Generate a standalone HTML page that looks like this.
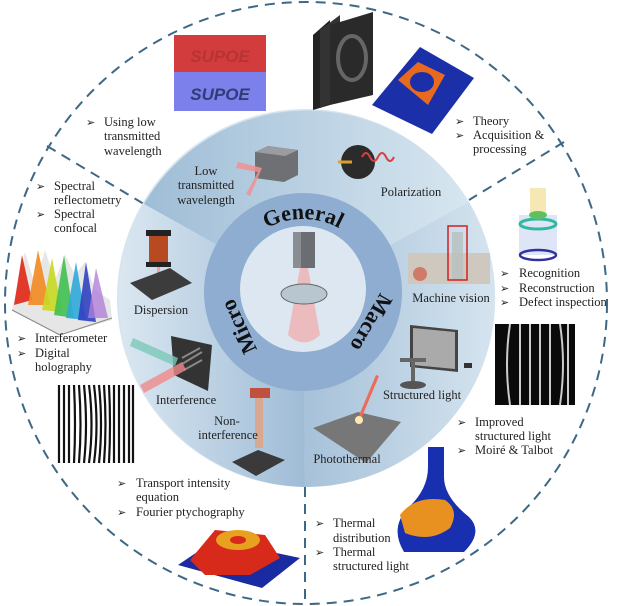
<!DOCTYPE html>
<html><head><meta charset="utf-8"><style>
html,body{margin:0;padding:0;background:#fff;}
svg{display:block;}
text{font-family:"Liberation Serif",serif;fill:#222;}
.t{font-size:12.5px;}
.a{font-size:11px;}
.big{font-size:22px;font-weight:bold;fill:#111;}
</style></head><body>
<svg width="639" height="606" viewBox="0 0 639 606" xmlns="http://www.w3.org/2000/svg">
<defs>
<radialGradient id="disk" cx="50%" cy="50%" r="50%">
<stop offset="0" stop-color="#a9c3db"/><stop offset="1" stop-color="#d6e5ef"/>
</radialGradient>
<linearGradient id="topg" x1="0" y1="0" x2="1" y2="0">
<stop offset="0" stop-color="#9fbdd6"/><stop offset="1" stop-color="#d7e6f0"/>
</linearGradient>
<linearGradient id="macg" x1="0" y1="0" x2="1" y2="0">
<stop offset="0" stop-color="#a6c1d9"/><stop offset="1" stop-color="#d5e4ef"/>
</linearGradient>
<linearGradient id="micg" x1="1" y1="0" x2="0" y2="0">
<stop offset="0" stop-color="#9fbcd6"/><stop offset="1" stop-color="#dae7f1"/>
</linearGradient>
<path id="genArc" d="M227,295 A76,76 0 0,1 379,295"/>
</defs>

<circle cx="306" cy="303" r="301" fill="none" stroke="#3d6886" stroke-width="2" stroke-dasharray="10,7"/>
<line x1="47" y1="146" x2="144" y2="204" stroke="#3d6886" stroke-width="2" stroke-dasharray="10,7"/>
<line x1="564" y1="142" x2="469" y2="200" stroke="#3d6886" stroke-width="2" stroke-dasharray="10,7"/>
<line x1="305" y1="487" x2="305" y2="606" stroke="#3d6886" stroke-width="2" stroke-dasharray="10,7"/>

<circle cx="306" cy="298" r="189" fill="url(#disk)"/>
<path d="M303,293 L144,204 A189,189 0 0,1 469,202 Z" fill="url(#topg)"/>
<path d="M303,293 L469,202 A189,189 0 0,1 305,487 Z" fill="url(#macg)"/>
<path d="M303,293 L305,487 A189,189 0 0,1 144,204 Z" fill="url(#micg)"/>
<circle cx="303" cy="292" r="99" fill="#8eadd0"/>
<circle cx="303" cy="289" r="63" fill="#dce7f1"/>

<rect x="293" y="232" width="22" height="36" fill="#6a6e73"/>
<rect x="293" y="232" width="8" height="36" fill="#8a8e93"/>
<path d="M300,268 L308,268 L320,335 Q304,350 288,335 Z" fill="#f2a8a8" opacity="0.7"/>
<ellipse cx="304" cy="294" rx="23" ry="10" fill="#b8c6cf" stroke="#666" stroke-width="1"/>

<text class="big"><textPath href="#genArc" startOffset="50%" text-anchor="middle">General</textPath></text>
<text class="big" transform="translate(238,327) rotate(-115)" text-anchor="middle" dy="8">Micro</text>
<text class="big" transform="translate(372,323) rotate(120)" text-anchor="middle" dy="8">Macro</text>

<rect x="174" y="35" width="92" height="37" fill="#d23c3c"/>
<rect x="174" y="72" width="92" height="39" fill="#7b80ea"/>
<text x="220" y="100" text-anchor="middle" style="font-family:'Liberation Sans',sans-serif;font-weight:bold;font-style:italic;font-size:17px;fill:#333a78">SUPOE</text>
<text x="220" y="62" text-anchor="middle" style="font-family:'Liberation Sans',sans-serif;font-weight:bold;font-style:italic;font-size:17px;fill:#b83434">SUPOE</text>

<polygon points="313,35 330,20 330,105 313,110" fill="#222"/>
<polygon points="320,30 340,15 340,100 320,108" fill="#333"/>
<polygon points="330,25 373,12 373,95 330,105" fill="#2a2a2a"/>
<ellipse cx="352" cy="58" rx="14" ry="22" fill="none" stroke="#666" stroke-width="4"/>
<polygon points="372,105 420,47 474,78 432,134" fill="#1b2fa8"/>
<polygon points="398,80 418,62 445,75 428,105" fill="#e86a1e"/>
<ellipse cx="422" cy="82" rx="12" ry="10" fill="#1b2fa8"/>

<polygon points="255,152 268,146 298,150 298,175 284,182 255,178" fill="#6e7074"/>
<polygon points="255,152 268,146 298,150 285,156" fill="#9a9ca0"/>
<polygon points="238,162 262,168 250,196 246,194 258,172 236,168" fill="#f29090" opacity="0.85"/>
<circle cx="358" cy="162" r="17" fill="#2b2b2b"/>
<path d="M362,157 q4,-8 8,0 q4,8 8,0 q4,-8 8,0 q4,8 8,0" fill="none" stroke="#d84040" stroke-width="2"/>
<path d="M338,162 L352,162" stroke="#d9a030" stroke-width="3"/>

<polygon points="12,310 25,252 35,285 45,250 55,280 65,255 75,275 85,262 95,290 110,300 112,320 60,335" fill="#e6e6e6"/>
<polygon points="14,305 22,255 32,300" fill="#e23a2a"/>
<polygon points="28,305 38,250 50,305" fill="#f28a20" opacity="0.9"/>
<polygon points="42,310 52,258 62,312" fill="#c8d820" opacity="0.9"/>
<polygon points="54,315 64,255 74,318" fill="#40c050" opacity="0.9"/>
<polygon points="66,318 76,262 86,320" fill="#30a8d8" opacity="0.9"/>
<polygon points="78,320 86,262 96,322" fill="#3040c0" opacity="0.9"/>
<polygon points="88,318 96,268 108,318" fill="#b080d8" opacity="0.8"/>
<line x1="12" y1="310" x2="60" y2="335" stroke="#888"/>
<line x1="60" y1="335" x2="112" y2="318" stroke="#888"/>

<rect x="149" y="232" width="19" height="32" fill="#b84a22"/>
<rect x="146" y="230" width="25" height="6" fill="#222"/>
<rect x="146" y="262" width="25" height="5" fill="#222"/>
<polygon points="157,267 160,267 160,290 157,290" fill="#f0a0b0"/>
<polygon points="130,283 170,268 192,283 152,300" fill="#3c3c3c"/>

<polygon points="171,336 212,345 208,391 174,375" fill="#333"/>
<path d="M182,358 l18,-10 M182,364 l20,-12 M184,370 l18,-10" stroke="#888" stroke-width="2"/>
<polygon points="133,338 178,358 175,366 130,346" fill="#7cc8b8" opacity="0.8"/>
<polygon points="140,385 182,362 186,370 144,393" fill="#f08a8a" opacity="0.8"/>

<rect x="250" y="388" width="20" height="10" fill="#c05040"/>
<rect x="255" y="398" width="8" height="50" fill="#d8a890"/>
<polygon points="232,462 258,450 285,460 256,476" fill="#3a3a3a"/>

<rect x="57" y="385" width="77" height="78" fill="#fff"/>
<g stroke="#111" stroke-width="2.2" fill="none">
<path d="M59,385 v78"/><path d="M64,385 v78"/><path d="M69,385 v78"/><path d="M74,385 q2,40 0,78"/><path d="M79,385 q3,40 0,78"/><path d="M84,385 q4,40 0,78"/><path d="M89,385 q5,40 0,78"/><path d="M94,385 q5,40 0,78"/><path d="M99,385 q4,40 0,78"/><path d="M104,385 q3,40 0,78"/><path d="M109,385 q2,40 0,78"/><path d="M114,385 v78"/><path d="M119,385 v78"/><path d="M124,385 v78"/><path d="M129,385 v78"/><path d="M133,385 v78"/>
</g>

<polygon points="178,565 215,540 300,558 262,588" fill="#1a2aa0"/>
<polygon points="190,560 215,530 265,535 280,558 250,575 205,575" fill="#d82a1a"/>
<ellipse cx="238" cy="540" rx="22" ry="10" fill="#e8a020"/>
<ellipse cx="238" cy="540" rx="8" ry="4" fill="#d82a1a"/>

<rect x="408" y="253" width="82" height="31" fill="#cfc8be"/>
<circle cx="420" cy="274" r="7" fill="#d07a6a"/>
<rect x="452" y="232" width="11" height="48" fill="#b8c0c0" opacity="0.8"/>
<rect x="448" y="226" width="19" height="54" fill="none" stroke="#d02020" stroke-width="1.5"/>
<rect x="519" y="215" width="38" height="40" fill="#c8d4f0" opacity="0.6"/>
<rect x="530" y="188" width="16" height="28" fill="#f2e2a0" opacity="0.8"/>
<ellipse cx="538" cy="224" rx="18" ry="5" fill="none" stroke="#30b8a0" stroke-width="3"/>
<ellipse cx="538" cy="215" rx="9" ry="4" fill="#60c060"/>
<ellipse cx="538" cy="255" rx="18" ry="5" fill="none" stroke="#3030a0" stroke-width="2.5"/>

<polygon points="410,325 458,330 458,372 410,367" fill="#444"/>
<polygon points="413,328 455,332 455,369 413,365" fill="#aaa"/>
<rect x="400" y="358" width="26" height="4" fill="#666"/>
<rect x="411" y="362" width="4" height="20" fill="#666"/>
<ellipse cx="413" cy="385" rx="13" ry="4" fill="#555"/>
<rect x="464" y="363" width="8" height="5" fill="#333"/>

<rect x="495" y="324" width="80" height="81" fill="#0a0a0a"/>
<g stroke="#ccc" stroke-width="2" fill="none">
<path d="M510,324 q-6,40 0,81"/><path d="M520,324 v81"/><path d="M530,324 v81"/><path d="M540,324 v81"/><path d="M550,324 v81"/><path d="M560,324 q6,40 0,81"/><path d="M568,324 v81"/>
</g>

<polygon points="313,428 358,412 401,422 366,463" fill="#777"/>
<polygon points="376,375 379,376 361,419 358,418" fill="#ee6a5a"/>
<circle cx="359" cy="420" r="4" fill="#ffe8b0"/>

<path d="M428,447 h16 v30 q0,20 25,40 q15,15 -5,35 h-60 q-15,-25 5,-45 q19,-18 19,-40 Z" fill="#1830b0"/>
<path d="M400,515 q15,-20 45,-15 q15,10 5,28 q-20,15 -45,5 Z" fill="#e89020"/>

<g class="t">
<text x="86" y="126" class="a">➢</text><text x="104" y="126">Using low</text>
<text x="104" y="140">transmitted</text><text x="104" y="155">wavelength</text>

<text x="455" y="125" class="a">➢</text><text x="473" y="125">Theory</text>
<text x="455" y="139" class="a">➢</text><text x="473" y="139">Acquisition &amp;</text>
<text x="473" y="153">processing</text>

<text x="36" y="190" class="a">➢</text><text x="54" y="190">Spectral</text>
<text x="54" y="204">reflectometry</text>
<text x="36" y="218" class="a">➢</text><text x="54" y="218">Spectral</text>
<text x="54" y="232">confocal</text>

<text x="17" y="342" class="a">➢</text><text x="35" y="342">Interferometer</text>
<text x="17" y="357" class="a">➢</text><text x="35" y="357">Digital</text>
<text x="35" y="371">holography</text>

<text x="500" y="277" class="a">➢</text><text x="519" y="277">Recognition</text>
<text x="500" y="292" class="a">➢</text><text x="519" y="292">Reconstruction</text>
<text x="500" y="306" class="a">➢</text><text x="519" y="306">Defect inspection</text>

<text x="457" y="426" class="a">➢</text><text x="475" y="426">Improved</text>
<text x="475" y="440">structured light</text>
<text x="457" y="454" class="a">➢</text><text x="475" y="454">Moiré &amp; Talbot</text>

<text x="117" y="487" class="a">➢</text><text x="136" y="487">Transport intensity</text>
<text x="136" y="501">equation</text>
<text x="117" y="516" class="a">➢</text><text x="136" y="516">Fourier ptychography</text>

<text x="315" y="527" class="a">➢</text><text x="333" y="527">Thermal</text>
<text x="333" y="542">distribution</text>
<text x="315" y="556" class="a">➢</text><text x="333" y="556">Thermal</text>
<text x="333" y="570">structured light</text>
</g>

<g class="t" text-anchor="middle">
<text x="206" y="175">Low</text><text x="206" y="189">transmitted</text><text x="206" y="204">wavelength</text>
<text x="411" y="196">Polarization</text>
<text x="451" y="302">Machine vision</text>
<text x="422" y="399">Structured light</text>
<text x="347" y="463">Photothermal</text>
<text x="161" y="314">Dispersion</text>
<text x="186" y="404">Interference</text>
<text x="227" y="425">Non-</text><text x="228" y="439">interference</text>
</g>
</svg>
</body></html>
